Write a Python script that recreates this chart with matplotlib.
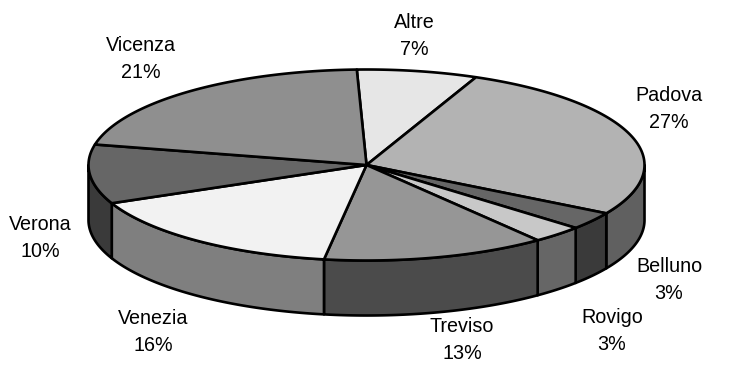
import numpy as np
import matplotlib
matplotlib.use('Agg')
import matplotlib.pyplot as plt

# Share by province, clockwise from the top
names = ['Altre', 'Padova', 'Belluno', 'Rovigo', 'Treviso', 'Venezia', 'Verona', 'Vicenza']
shares = [7, 27, 3, 3, 13, 16, 10, 21]
top_colors = ['#e6e6e6', '#b3b3b3', '#666666', '#c8c8c8', '#969696', '#f2f2f2', '#666666', '#8f8f8f']
side_colors = ['#b0b0b0', '#606060', '#3a3a3a', '#666666', '#4b4b4b', '#7f7f7f', '#3a3a3a', '#606060']
label_x = [414, 669, 669, 612, 462, 153, 40, 141]
label_y = [36, 109, 280, 331, 340, 332, 238, 59]

# Pie geometry in pixels
cx, cy = 366.5, 165
rx, ry = 278, 95.5
depth = 55
start = 92
lw = 1.9


def rim(a0, a1):
    t = np.radians(np.linspace(a0, a1, 200))
    return cx + rx * np.cos(t), cy - ry * np.sin(t)


fig = plt.figure(figsize=(7.3, 3.65), dpi=100)
ax = fig.add_axes([0, 0, 1, 1])
ax.set_xlim(0, 730)
ax.set_ylim(365, 0)
ax.axis('off')

angles = start - np.cumsum([0] + shares) * 3.6

# Side wall, only the front half of the rim (-180..0) is visible
for i in range(len(shares)):
    hi = min(angles[i], 0)
    lo = max(angles[i + 1], -180)
    if hi <= lo:
        continue
    x, y = rim(hi, lo)
    xs = np.concatenate([x, x[::-1]])
    ys = np.concatenate([y, y[::-1] + depth])
    ax.fill(xs, ys, facecolor=side_colors[i], edgecolor='black', linewidth=lw, joinstyle='round', zorder=2)

# Top face
for i in range(len(shares)):
    x, y = rim(angles[i], angles[i + 1])
    ax.fill(np.r_[cx, x], np.r_[cy, y], facecolor=top_colors[i], edgecolor='black',
            linewidth=lw, joinstyle='round', zorder=3)

# Name and percentage as two separate lines
for name, share, x, y in zip(names, shares, label_x, label_y):
    ax.text(x, y - 13.5, name, ha='center', va='center', fontsize=14.2,
            family='Liberation Sans', color='black', zorder=4)
    ax.text(x, y + 13.5, f'{share}%', ha='center', va='center', fontsize=14.2,
            family='Liberation Sans', color='black', zorder=4)

fig.savefig('out.png', dpi=100)
